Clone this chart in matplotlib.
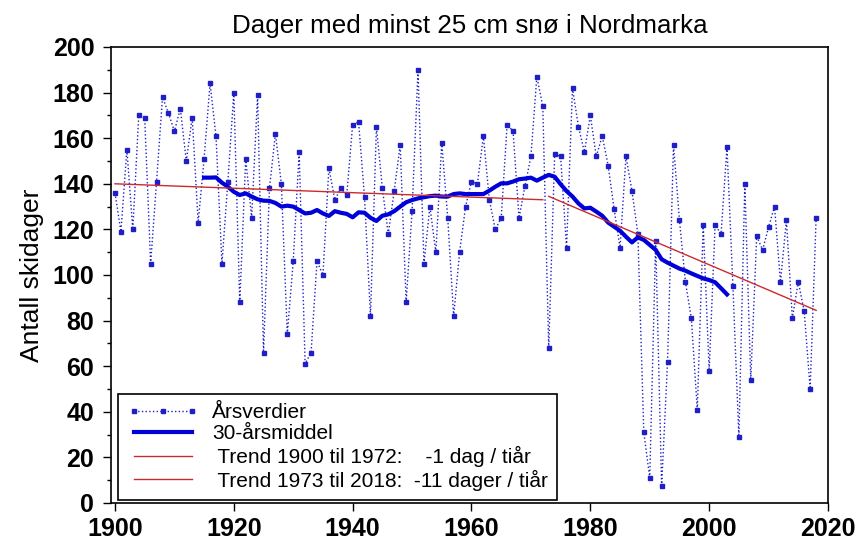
import matplotlib
matplotlib.use("Agg")
import matplotlib.pyplot as plt
from matplotlib.ticker import MultipleLocator

plt.rcParams["font.family"] = ["Liberation Sans", "DejaVu Sans"]

# ── Data (lest av figuren) ───────────────────────────────────────────────────
years = list(range(1900, 2019))
annual = [
    136, 119, 155, 120, 170, 169, 105, 141, 178, 171,   # 1900-1909
    163, 173, 150, 169, 123, 151, 184, 161, 105, 141,   # 1910-1919
    180, 88, 151, 125, 179, 66, 138, 162, 140, 74,      # 1920-1929
    106, 154, 61, 66, 106, 100, 147, 133, 138, 135,     # 1930-1939
    166, 167, 134, 82, 165, 138, 118, 137, 157, 88,     # 1940-1949
    128, 190, 105, 130, 110, 158, 125, 82, 110, 130,    # 1950-1959
    141, 140, 161, 133, 120, 125, 166, 163, 125, 139,   # 1960-1969
    152, 187, 174, 68, 153, 152, 112, 182, 165, 154,    # 1970-1979
    170, 152, 161, 148, 129, 112, 152, 137, 118, 31,    # 1980-1989
    11, 115, 7.5, 62, 157, 124, 97, 81, 41, 122,        # 1990-1999
    58, 122, 118, 156, 95, 29, 140, 54, 117, 111,       # 2000-2009
    121, 130, 97, 124, 81, 97, 84, 50, 125,             # 2010-2018
]

avg_years = list(range(1915, 2004))
avg30 = [
    142.7, 142.7, 142.8, 140.5, 138.7, 136.5, 135.1, 135.8, 134.4, 133.2,  # 1915-1924
    132.6, 132.5, 131.6, 130.0, 130.4, 130.0, 128.5, 127.0, 127.3, 128.5,  # 1925-1934
    127.0, 125.9, 128.0, 127.3, 126.8, 125.3, 127.5, 127.3, 125.1, 123.7,  # 1935-1944
    126.0, 126.6, 128.0, 130.0, 131.9, 132.9, 133.6, 134.1, 134.6, 134.8,  # 1945-1954
    134.4, 134.4, 135.5, 135.8, 135.5, 135.5, 135.5, 135.5, 137.0, 138.7,  # 1955-1964
    140.2, 140.2, 141.0, 142.0, 142.3, 142.7, 141.4, 142.7, 143.9, 143.1,  # 1965-1974
    139.8, 136.8, 134.4, 131.4, 129.2, 129.5, 127.8, 126.0, 123.0, 121.2,  # 1975-1984
    119.4, 116.8, 114.3, 116.5, 115.4, 113.2, 111.0, 106.9, 105.4, 104.1,  # 1985-1994
    102.8, 101.9, 100.7, 99.6, 98.5, 97.8, 96.8, 94.2, 91.5,               # 1995-2003
]

trend1_years = [1900, 1972]
trend1_vals = [140.0, 133.0]
trend2_years = [1973, 2018]
trend2_vals = [134.5, 84.5]

# ── Figur ────────────────────────────────────────────────────────────────────
fig = plt.figure(figsize=(8.58, 5.4), dpi=100)
ax = fig.add_axes([111 / 858, 1 - 503 / 540, (828 - 111) / 858, (503 - 47) / 540])

ax.plot(years, annual, linestyle=":", linewidth=1.0, color="#1f1fc8",
        marker="s", markersize=3.1, label="Årsverdier")
ax.plot(avg_years, avg30, linewidth=3.0, color="#0000d8", label="30-årsmiddel")
ax.plot(trend1_years, trend1_vals, linewidth=1.0, color="#cc2b2b",
        label=" Trend 1900 til 1972:    -1 dag / tiår")
ax.plot(trend2_years, trend2_vals, linewidth=1.0, color="#cc2b2b",
        label=" Trend 1973 til 2018:  -11 dager / tiår")

ax.set_xlim(1899.33, 2020)
ax.set_ylim(0, 200)
ax.set_xticks(range(1900, 2021, 20))
ax.set_yticks(range(0, 201, 20))
ax.yaxis.set_minor_locator(MultipleLocator(10))
ax.tick_params(which="major", direction="out", length=6, width=1.0, labelsize=18)
ax.tick_params(which="minor", direction="out", length=3, width=1.0)
ax.tick_params(axis="x", pad=4)
ax.tick_params(axis="y", pad=6)
for lbl in ax.get_xticklabels() + ax.get_yticklabels():
    lbl.set_fontweight("bold")
for sp in ax.spines.values():
    sp.set_linewidth(1.2)

ax.set_title("Dager med minst 25 cm snø i Nordmarka", fontsize=18.7, pad=10)
ax.set_ylabel("Antall skidager", fontsize=19, labelpad=6)

leg = ax.legend(loc="lower left", bbox_to_anchor=(0.0098, 0.0066), borderaxespad=0,
                fontsize=15, numpoints=3, handlelength=3.4, handletextpad=0.65,
                labelspacing=0.12, borderpad=0.45, fancybox=False, framealpha=1)
leg.get_frame().set_edgecolor("black")
leg.get_frame().set_linewidth(1.2)

fig.savefig("out.png", dpi=100)
